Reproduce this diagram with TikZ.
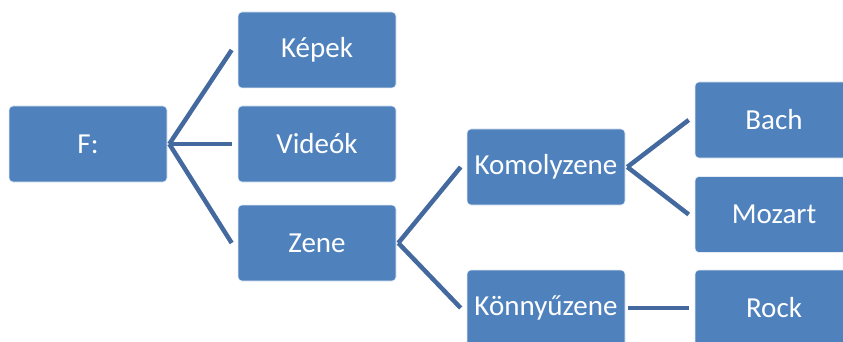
\documentclass[tikz,border=0pt]{standalone}
\usepackage{fontspec}
\setmainfont{Carlito}
\usetikzlibrary{calc}
\definecolor{boxblue}{HTML}{4F81BD}
\definecolor{linkblue}{HTML}{43699E}
\tikzset{
  item/.style={fill=boxblue, draw=white!85!boxblue, line width=0.6pt, rounded corners=4pt,
    minimum width=158pt, minimum height=76pt, inner sep=0pt, text=white,
    font=\fontsize{29}{34}\selectfont},
  link/.style={draw=linkblue, line width=4.5pt},
}
\begin{document}
\begin{tikzpicture}[x=1pt, y=-1pt]
  \useasboundingbox (0,0) rectangle (843,342);
  \clip (0,0) rectangle (843,342);
  % level 0
  \node[item] (f) at (88,144) {F:};
  % level 1
  \node[item] (kep) at (317,50) {Képek};
  \node[item] (vid) at (317,144) {Videók};
  \node[item] (zen) at (317,243) {Zene};
  % level 2
  \node[item] (kom) at (546,167) {Komolyzene};
  \node[item] (kon) at (546,308) {Könnyűzene};
  % level 3
  \node[item] (bach) at (774,120) {Bach};
  \node[item] (moz) at (774,214.5) {Mozart};
  \node[item] (rock) at (774,308) {Rock};
  % connectors
  \coordinate (fo) at ($(f.east)+(2,0)$);
  \draw[link] (fo) -- ($(kep.west)+(-6,0)$);
  \draw[link] (fo) -- ($(vid.west)+(-6,0)$);
  \draw[link] (fo) -- ($(zen.west)+(-6,0)$);
  \coordinate (zo) at ($(zen.east)+(2,0)$);
  \draw[link] (zo) -- ($(kom.west)+(-6,0)$);
  \draw[link] (zo) -- ($(kon.west)+(-6,0)$);
  \coordinate (ko) at ($(kom.east)+(2,0)$);
  \draw[link] (ko) -- ($(bach.west)+(-6,0)$);
  \draw[link] (ko) -- ($(moz.west)+(-6,0)$);
  \draw[link] ($(kon.east)+(3,0)$) -- ($(rock.west)+(-6,0)$);
\end{tikzpicture}
\end{document}
